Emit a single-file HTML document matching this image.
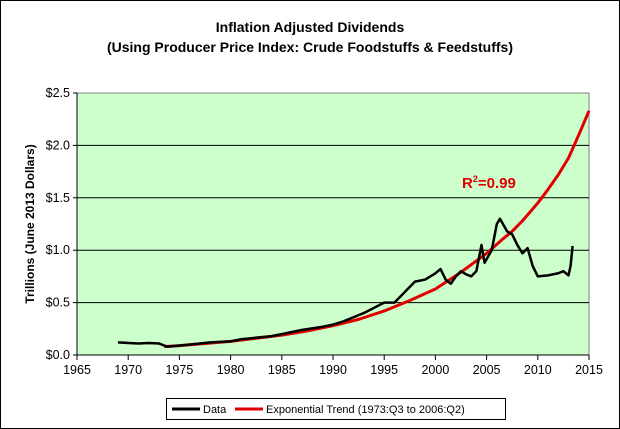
<!DOCTYPE html>
<html><head><meta charset="utf-8"><style>
body{margin:0;background:#fff}
svg{display:block;font-family:"Liberation Sans",Arial,sans-serif}
</style></head><body>
<svg id="c" width="620" height="429">
<rect x="0.5" y="0.5" width="619" height="428" fill="#fff" stroke="#000"/>
<text x="310" y="32" text-anchor="middle" font-size="14" font-weight="bold">Inflation Adjusted Dividends</text>
<text x="310" y="52" text-anchor="middle" font-size="14" font-weight="bold">(Using Producer Price Index: Crude Foodstuffs &amp; Feedstuffs)</text>
<rect x="77" y="93" width="512" height="262" fill="#ccffcc" stroke="#808080"/>
<g id="grid"></g><g id="axes"></g><g id="series"></g>
<text x="462" y="188" fill="#e00000" font-size="15" font-weight="bold">R<tspan dy="-6" font-size="9">2</tspan><tspan dy="6">=0.99</tspan></text>
<text transform="translate(34,224) rotate(-90)" text-anchor="middle" font-size="12" font-weight="bold">Trillions (June 2013 Dollars)</text>
<g>
<rect x="166.5" y="398.5" width="339" height="21" fill="#fff" stroke="#000"/>
<line x1="172" y1="409" x2="200" y2="409" stroke="#000" stroke-width="3"/>
<text x="203" y="413" font-size="11">Data</text>
<line x1="235" y1="409" x2="263" y2="409" stroke="#e00000" stroke-width="3"/>
<text x="266" y="413" font-size="11">Exponential Trend (1973:Q3 to 2006:Q2)</text>
</g>
</svg>
<script>
const xTicks=[1965,1970,1975,1980,1985,1990,1995,2000,2005,2010,2015];
const yTicks=[0,0.5,1,1.5,2,2.5];
const yTickLabels=["$0.0","$0.5","$1.0","$1.5","$2.0","$2.5"];
const dataYears=[1969,1970,1971,1972,1973,1973.8,1975,1977,1978,1980,1981,1982,1984,1985,1987,1989,1990,1991,1992,1993,1994,1995,1996,1997,1997.5,1998,1999,2000,2000.5,2001,2001.5,2002,2002.5,2003,2003.5,2004,2004.5,2004.8,2005.5,2006,2006.3,2006.6,2007,2007.5,2008,2008.5,2009,2009.5,2010,2011,2012,2012.5,2013,2013.2,2013.4];
const dataValues=[0.12,0.115,0.11,0.115,0.11,0.08,0.09,0.11,0.12,0.13,0.15,0.16,0.18,0.2,0.24,0.27,0.29,0.32,0.36,0.4,0.45,0.5,0.5,0.6,0.65,0.7,0.72,0.78,0.82,0.72,0.68,0.75,0.8,0.77,0.75,0.8,1.05,0.88,1.0,1.25,1.3,1.25,1.18,1.15,1.05,0.97,1.02,0.85,0.75,0.76,0.78,0.8,0.76,0.85,1.04];
const trendYears=[1973.5,1975,1977.5,1980,1982.5,1985,1987.5,1990,1992.5,1995,1997.5,2000,2002.5,2005,2006.5,2007.5,2008.5,2010,2011,2012,2013,2014,2015];
const trendValues=[0.08,0.09,0.11,0.13,0.16,0.19,0.23,0.28,0.34,0.42,0.52,0.63,0.79,0.97,1.1,1.18,1.28,1.45,1.58,1.72,1.88,2.1,2.33];
const NS="http://www.w3.org/2000/svg";
const X=v=>77+(v-1965)/50*512, Y=v=>355-v/2.5*262;
function mk(t,a,p){const e=document.createElementNS(NS,t);for(const k in a)e.setAttribute(k,a[k]);p.appendChild(e);return e;}
const g=document.getElementById('grid'),ax=document.getElementById('axes'),s=document.getElementById('series');
yTicks.forEach((v,i)=>{
 if(v>0&&v<2.5){const l=mk('line',{x1:77,x2:589,y1:Y(v),y2:Y(v),stroke:'#000'},g);
 
 }
 mk('line',{x1:73,x2:77,y1:Y(v),y2:Y(v),stroke:'#000'},ax);
 const t=mk('text',{x:70,y:Y(v)+4,'text-anchor':'end','font-size':12.5},ax);t.textContent=yTickLabels[i];
 
 
});
mk('line',{x1:77,x2:77,y1:93,y2:355,stroke:'#000'},ax);
mk('line',{x1:77,x2:589,y1:355,y2:355,stroke:'#000'},ax);
xTicks.forEach(v=>{
 mk('line',{x1:X(v),x2:X(v),y1:355,y2:360,stroke:'#000'},ax);
 const t=mk('text',{x:X(v),y:374,'text-anchor':'middle','font-size':12.5},ax);t.textContent=v;
 
 
});
const tp=mk('polyline',{points:trendYears.map((y,i)=>X(y)+','+Y(trendValues[i])).join(' '),fill:'none',stroke:'#e00000','stroke-width':3,'stroke-linejoin':'round'},s);


const dp=mk('polyline',{points:dataYears.map((y,i)=>X(y)+','+Y(dataValues[i])).join(' '),fill:'none',stroke:'#000','stroke-width':2.5,'stroke-linejoin':'round'},s);


</script>
</body></html>
